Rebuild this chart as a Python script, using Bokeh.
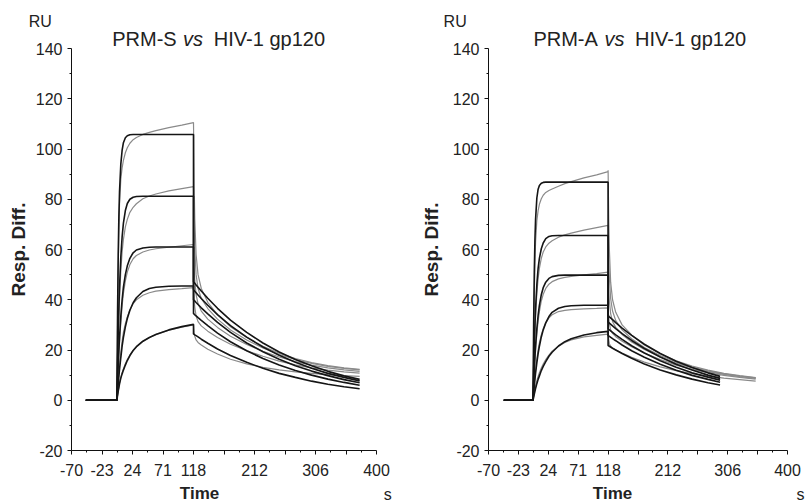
import math
from bokeh.plotting import figure
from bokeh.layouts import row
from bokeh.models import FixedTicker, Label, Range1d, LinearAxis
from bokeh.embed import file_html
from bokeh.resources import INLINE

FONT = "Liberation Sans"
TXT = "#222222"
FIT_COLOR = "#151515"
DATA_COLOR = "#8a8a8a"

# ---------------- axis ticks ----------------
time_major = [-70, -23, 24, 71, 118, 165, 212, 259, 306, 353, 400]
time_minor = [-46.5, 0.5, 47.5, 94.5, 141.5, 188.5, 235.5, 282.5, 329.5, 376.5]
time_labels = {-70: "-70", -23: "-23", 165: "", 259: "", 353: ""}
resp_major = [-20, 0, 20, 40, 60, 80, 100, 120, 140]
resp_minor = [-10, 10, 30, 50, 70, 90, 110, 130]
resp_labels = {-20: "-20"}

# ---------------- PRM-S vs HIV-1 gp120 ----------------
s_baseline_start = -48
s_assoc_t = [0, 1, 2, 3, 4, 6, 8, 10, 13, 16, 20, 25, 30, 40, 50, 60, 80, 100, 118]
s_fit_assoc_1 = [0, 35, 58, 73, 83, 94, 99.5, 102.5, 104.5, 105.3, 105.7, 105.8, 105.8, 105.8, 105.8, 105.8, 105.8, 105.8, 105.8]
s_fit_assoc_2 = [0, 15, 27, 37, 45, 57, 65, 70.5, 75.5, 78.3, 80, 80.8, 81.1, 81.2, 81.2, 81.2, 81.2, 81.2, 81.2]
s_fit_assoc_3 = [0, 7.5, 14, 20, 25, 33.5, 40, 45, 50, 53.5, 56.5, 58.7, 59.8, 60.6, 60.9, 61, 61, 61, 61]
s_fit_assoc_4 = [0, 3.5, 6.5, 9.5, 12.3, 17, 21.5, 25, 29.2, 32.5, 35.8, 38.8, 40.8, 43.3, 44.5, 45, 45.4, 45.5, 45.5]
s_fit_assoc_5 = [0, 2, 3.6, 5, 6.5, 8.8, 10.5, 12, 14, 15.8, 17.8, 19.8, 21.3, 23.5, 25, 26.2, 28, 29.3, 30.2]
s_data_assoc_1 = [0, 30, 52, 68, 78, 88, 92.5, 95.5, 98.5, 100.5, 102.3, 103.7, 104.6, 105.8, 106.6, 107.3, 108.5, 109.5, 110.5]
s_data_assoc_2 = [0, 13, 24, 33, 40.5, 51.5, 59, 64, 69, 72, 74.8, 76.8, 78.2, 80.2, 81.3, 82.1, 83.3, 84.2, 85]
s_data_assoc_3 = [0, 7, 13, 18.5, 23, 31, 37.5, 42.5, 47.5, 51, 54, 56.3, 57.6, 59, 59.8, 60.3, 60.9, 61.5, 62]
s_data_assoc_4 = [0, 4.5, 8, 11, 14, 19, 23.5, 27, 30.5, 33.2, 36, 38.5, 40, 41.8, 42.8, 43.4, 44, 44.4, 44.8]
s_data_assoc_5 = [0, 2, 3.8, 5.3, 6.8, 9.2, 11, 12.5, 14.5, 16.2, 18, 19.8, 21.2, 23.4, 25, 26.2, 27.9, 29.1, 30]

s_dissoc_t = [118, 119, 120, 122, 125, 130, 140, 155, 175, 200, 225, 250, 275, 300, 325, 350, 374]
s_fit_dissoc_1 = [47.2, 46.9, 46.6, 45.9, 45.0, 43.5, 40.6, 36.6, 31.9, 27.0, 22.8, 19.2, 16.2, 13.7, 11.5, 9.7, 8.3]
s_fit_dissoc_2 = [44.0, 43.7, 43.4, 42.8, 41.9, 40.5, 37.8, 34.1, 29.7, 25.1, 21.2, 17.9, 15.1, 12.7, 10.7, 9.1, 7.7]
s_fit_dissoc_3 = [40.0, 39.7, 39.5, 38.9, 38.1, 36.8, 34.4, 31.0, 27.0, 22.8, 19.3, 16.3, 13.7, 11.6, 9.8, 8.2, 7.0]
s_fit_dissoc_4 = [34.5, 34.3, 34.0, 33.6, 32.9, 31.8, 29.7, 26.7, 23.3, 19.7, 16.6, 14.0, 11.8, 10.0, 8.4, 7.1, 6.0]
s_fit_dissoc_5 = [26.4, 26.2, 26.0, 25.7, 25.2, 24.3, 22.7, 20.4, 17.8, 15.1, 12.7, 10.7, 9.1, 7.6, 6.4, 5.4, 4.6]
s_data_dissoc_1 = [110.5, 86, 72, 58, 50, 44.5, 39, 34, 29.3, 25, 21.5, 18.7, 16.6, 15, 13.8, 12.9, 12.3]
s_data_dissoc_2 = [85, 70, 60, 50, 44.5, 40.5, 36.5, 32.3, 28, 24, 20.8, 18.2, 16.2, 14.7, 13.5, 12.7, 12.1]
s_data_dissoc_3 = [62, 53, 47.5, 42, 38.5, 35.5, 32.3, 29, 25.5, 22.2, 19.5, 17.2, 15.4, 14, 12.9, 12.1, 11.5]
s_data_dissoc_4 = [44.8, 40, 37, 33.5, 31.3, 29.6, 27.5, 25, 22.3, 19.7, 17.5, 15.6, 14.1, 12.9, 12, 11.3, 10.8]
s_data_dissoc_5 = [30, 27, 25.5, 24, 23, 22, 20.3, 18.4, 16.3, 14.5, 13.1, 12.1, 11.3, 10.7, 10.2, 9.8, 9.5]

# ---------------- PRM-A vs HIV-1 gp120 ----------------
a_baseline_start = -46
a_assoc_t = [0, 1, 2, 3, 4, 6, 8, 10, 13, 16, 20, 25, 30, 40, 50, 60, 80, 100, 118]
a_fit_assoc_1 = [0, 31, 51, 64, 72, 80.5, 84, 85.5, 86.4, 86.7, 86.8, 86.8, 86.8, 86.8, 86.8, 86.8, 86.8, 86.8, 86.8]
a_fit_assoc_2 = [0, 12, 22, 30, 36.5, 46, 52.5, 56.5, 60.3, 62.6, 64.3, 65.2, 65.5, 65.6, 65.6, 65.6, 65.6, 65.6, 65.6]
a_fit_assoc_3 = [0, 6.5, 12.3, 17.3, 21.6, 28.5, 33.8, 37.8, 42, 44.8, 47, 48.5, 49.2, 49.7, 49.8, 49.8, 49.8, 49.8, 49.8]
a_fit_assoc_4 = [0, 3, 5.8, 8.4, 10.8, 15, 18.6, 21.5, 25.2, 28, 30.8, 33.3, 35, 36.6, 37.3, 37.6, 37.8, 37.8, 37.8]
a_fit_assoc_5 = [0, 1.3, 2.5, 3.6, 4.7, 6.6, 8.3, 9.7, 11.8, 13.5, 15.4, 17.5, 19.1, 21.6, 23.3, 24.5, 26, 26.9, 27.4]
a_data_assoc_1 = [0, 24, 42, 55, 63, 71.5, 75.5, 78, 80.2, 81.6, 82.7, 83.5, 84.1, 85.2, 86.2, 87, 88.5, 89.7, 91]
a_data_assoc_2 = [0, 11, 20, 27.5, 33.5, 42.5, 48.5, 52.5, 56.5, 59, 61, 62.5, 63.5, 64.9, 65.8, 66.5, 67.7, 68.7, 69.6]
a_data_assoc_3 = [0, 6, 11.3, 16, 20, 26.5, 31.5, 35.3, 39.5, 42.2, 44.5, 46.2, 47.2, 48.3, 48.9, 49.3, 49.9, 50.4, 51]
a_data_assoc_4 = [0, 3.5, 6.5, 9.3, 12, 16.5, 20, 22.8, 26, 28.5, 30.8, 32.8, 34, 35.3, 35.8, 36.1, 36.4, 36.6, 36.8]
a_data_assoc_5 = [0, 1.8, 3.3, 4.6, 5.8, 7.8, 9.5, 11, 12.8, 14.4, 16.2, 18, 19.5, 21.5, 23, 24, 25.2, 25.8, 26.3]

a_fit_dissoc_t = [118, 120, 125, 130, 140, 155, 175, 200, 225, 250, 275, 294]
a_fit_dissoc_1 = [33.7, 33.2, 32.1, 30.9, 28.7, 25.8, 22.3, 18.6, 15.5, 13.0, 10.9, 9.5]
a_fit_dissoc_2 = [31.1, 30.7, 29.6, 28.5, 26.5, 23.8, 20.6, 17.2, 14.3, 12.0, 10.0, 8.7]
a_fit_dissoc_3 = [28.4, 28.0, 27.0, 26.0, 24.2, 21.7, 18.8, 15.7, 13.1, 10.9, 9.2, 8.0]
a_fit_dissoc_4 = [25.8, 25.4, 24.5, 23.7, 22.0, 19.7, 17.1, 14.3, 11.9, 9.9, 8.3, 7.2]
a_fit_dissoc_5 = [21.8, 21.5, 20.7, 20.0, 18.6, 16.7, 14.4, 12.0, 10.1, 8.4, 7.0, 6.1]
a_data_dissoc_t = [118, 119, 120, 122, 125, 130, 140, 155, 175, 200, 225, 250, 275, 300, 325, 350]
a_data_dissoc_1 = [91.5, 72, 60, 47, 40, 35, 30, 26, 22, 18.5, 15.7, 13.6, 12, 10.7, 9.8, 9.0]
a_data_dissoc_2 = [69.6, 57, 49, 40.5, 35.5, 31.7, 28, 24.5, 21, 17.8, 15.2, 13.2, 11.7, 10.5, 9.6, 8.9]
a_data_dissoc_3 = [51, 44, 39.5, 34.5, 31.3, 29, 26.2, 23.2, 20.2, 17.2, 14.8, 12.9, 11.4, 10.3, 9.4, 8.7]
a_data_dissoc_4 = [36.8, 33, 30.5, 28, 26.6, 25.3, 23.5, 21.3, 18.8, 16.2, 14, 12.3, 11, 9.9, 9.1, 8.4]
a_data_dissoc_5 = [26.3, 24, 22.5, 21.5, 20.8, 20, 18.8, 17.1, 15.2, 13.3, 11.8, 10.6, 9.6, 8.8, 8.2, 7.6]

# ---------------- layout (pixels) ----------------
FIG_H = 504
AXIS_TOP_PX = 48      # y=140 below the figure top
AXIS_H_PX = 402       # -20 .. 140
T_MIN, T_MAX = -70, 400
R_MIN, R_MAX = -20, 140


def curve(t0, at, av, dt, dv):
    xs = [t0] + list(at) + list(dt)
    ys = [0] + list(av) + list(dv)
    return xs, ys


def make_panel(width, ax_left_px, ax_w_px, title_parts, ru_x, resp_x, time_x, s_x,
               t0, at, fit_assoc, data_assoc, fdt, fit_dissoc, ddt, data_dissoc):
    sx = ax_w_px / (T_MAX - T_MIN)
    sy = AXIS_H_PX / (R_MAX - R_MIN)
    x0 = T_MIN - ax_left_px / sx
    x1 = T_MIN + (width - ax_left_px) / sx
    y1 = R_MAX + AXIS_TOP_PX / sy
    y0 = R_MIN - (FIG_H - AXIS_TOP_PX - AXIS_H_PX) / sy

    p = figure(width=width, height=FIG_H, x_range=Range1d(x0, x1), y_range=Range1d(y0, y1),
               output_backend="svg", toolbar_location=None, min_border=0,
               x_axis_location=None, y_axis_location=None)
    p.outline_line_color = None
    p.background_fill_color = "white"
    p.border_fill_color = "white"
    p.grid.visible = False

    xaxis = LinearAxis(fixed_location=R_MIN, bounds=(T_MIN, T_MAX),
                       ticker=FixedTicker(ticks=time_major, minor_ticks=time_minor),
                       major_label_overrides=time_labels)
    yaxis = LinearAxis(fixed_location=T_MIN, bounds=(R_MIN, R_MAX),
                       ticker=FixedTicker(ticks=resp_major, minor_ticks=resp_minor),
                       major_label_overrides=resp_labels)
    for ax in (xaxis, yaxis):
        ax.axis_line_color = "#111111"
        ax.axis_line_width = 1
        ax.major_tick_line_color = "#111111"
        ax.minor_tick_line_color = "#111111"
        ax.major_tick_out = 4
        ax.major_tick_in = 0
        ax.minor_tick_out = 2
        ax.minor_tick_in = 0
        ax.major_label_text_font = FONT
        ax.major_label_text_font_size = "16px"
        ax.major_label_text_color = TXT
    xaxis.major_label_standoff = 9
    yaxis.major_label_standoff = 5
    p.add_layout(xaxis, "below")
    p.add_layout(yaxis, "left")

    # data (grey) first, fits (black) on top
    for av, dv in zip(data_assoc, data_dissoc):
        xs, ys = curve(t0, at, av, ddt, dv)
        p.line(xs, ys, line_color=DATA_COLOR, line_width=1.2)
    for av, dv in zip(fit_assoc, fit_dissoc):
        xs, ys = curve(t0, at, av, fdt, dv)
        p.line(xs, ys, line_color=FIT_COLOR, line_width=1.6)

    for text, x, style in title_parts:
        p.add_layout(Label(x=x, y=143.9, text=text, text_font=FONT, text_font_size="20px",
                           text_font_style=style, text_color=TXT, text_baseline="alphabetic",
                           text_align="left"))
    p.add_layout(Label(x=ru_x, y=150.8, text="RU", text_font=FONT, text_font_size="16px",
                       text_color=TXT, text_baseline="alphabetic", text_align="left"))
    p.add_layout(Label(x=resp_x, y=60, text="Resp. Diff.", angle=math.pi / 2, text_font=FONT,
                       text_font_size="19px", text_font_style="bold", text_color=TXT,
                       text_align="center", text_baseline="middle"))
    p.add_layout(Label(x=time_x, y=-37.3, text="Time", text_font=FONT, text_font_size="17px",
                       text_font_style="bold", text_color=TXT, text_align="center",
                       text_baseline="alphabetic"))
    p.add_layout(Label(x=s_x, y=-37.4, text="s", text_font=FONT, text_font_size="16px",
                       text_color=TXT, text_align="left", text_baseline="alphabetic"))
    return p


left = make_panel(400, 71, 305,
                  [("PRM-S", -7.3, "normal"), ("vs", 102.0, "italic"), ("HIV-1 gp120", 149.3, "normal")],
                  -135.8, -151.7, 127.3, 411.3,
                  s_baseline_start, s_assoc_t,
                  [s_fit_assoc_1, s_fit_assoc_2, s_fit_assoc_3, s_fit_assoc_4, s_fit_assoc_5],
                  [s_data_assoc_1, s_data_assoc_2, s_data_assoc_3, s_data_assoc_4, s_data_assoc_5],
                  s_dissoc_t,
                  [s_fit_dissoc_1, s_fit_dissoc_2, s_fit_dissoc_3, s_fit_dissoc_4, s_fit_dissoc_5],
                  s_dissoc_t,
                  [s_data_dissoc_1, s_data_dissoc_2, s_data_dissoc_3, s_data_dissoc_4, s_data_dissoc_5])

right = make_panel(407, 88, 299,
                   [("PRM-A", 0.6, "normal"), ("vs", 112.5, "italic"), ("HIV-1 gp120", 160.3, "normal")],
                   -140.6, -158.9, 125.0, 414.1,
                   a_baseline_start, a_assoc_t,
                   [a_fit_assoc_1, a_fit_assoc_2, a_fit_assoc_3, a_fit_assoc_4, a_fit_assoc_5],
                   [a_data_assoc_1, a_data_assoc_2, a_data_assoc_3, a_data_assoc_4, a_data_assoc_5],
                   a_fit_dissoc_t,
                   [a_fit_dissoc_1, a_fit_dissoc_2, a_fit_dissoc_3, a_fit_dissoc_4, a_fit_dissoc_5],
                   a_data_dissoc_t,
                   [a_data_dissoc_1, a_data_dissoc_2, a_data_dissoc_3, a_data_dissoc_4, a_data_dissoc_5])

layout = row(left, right, spacing=0)
open("out.html", "w").write(file_html(layout, INLINE))
